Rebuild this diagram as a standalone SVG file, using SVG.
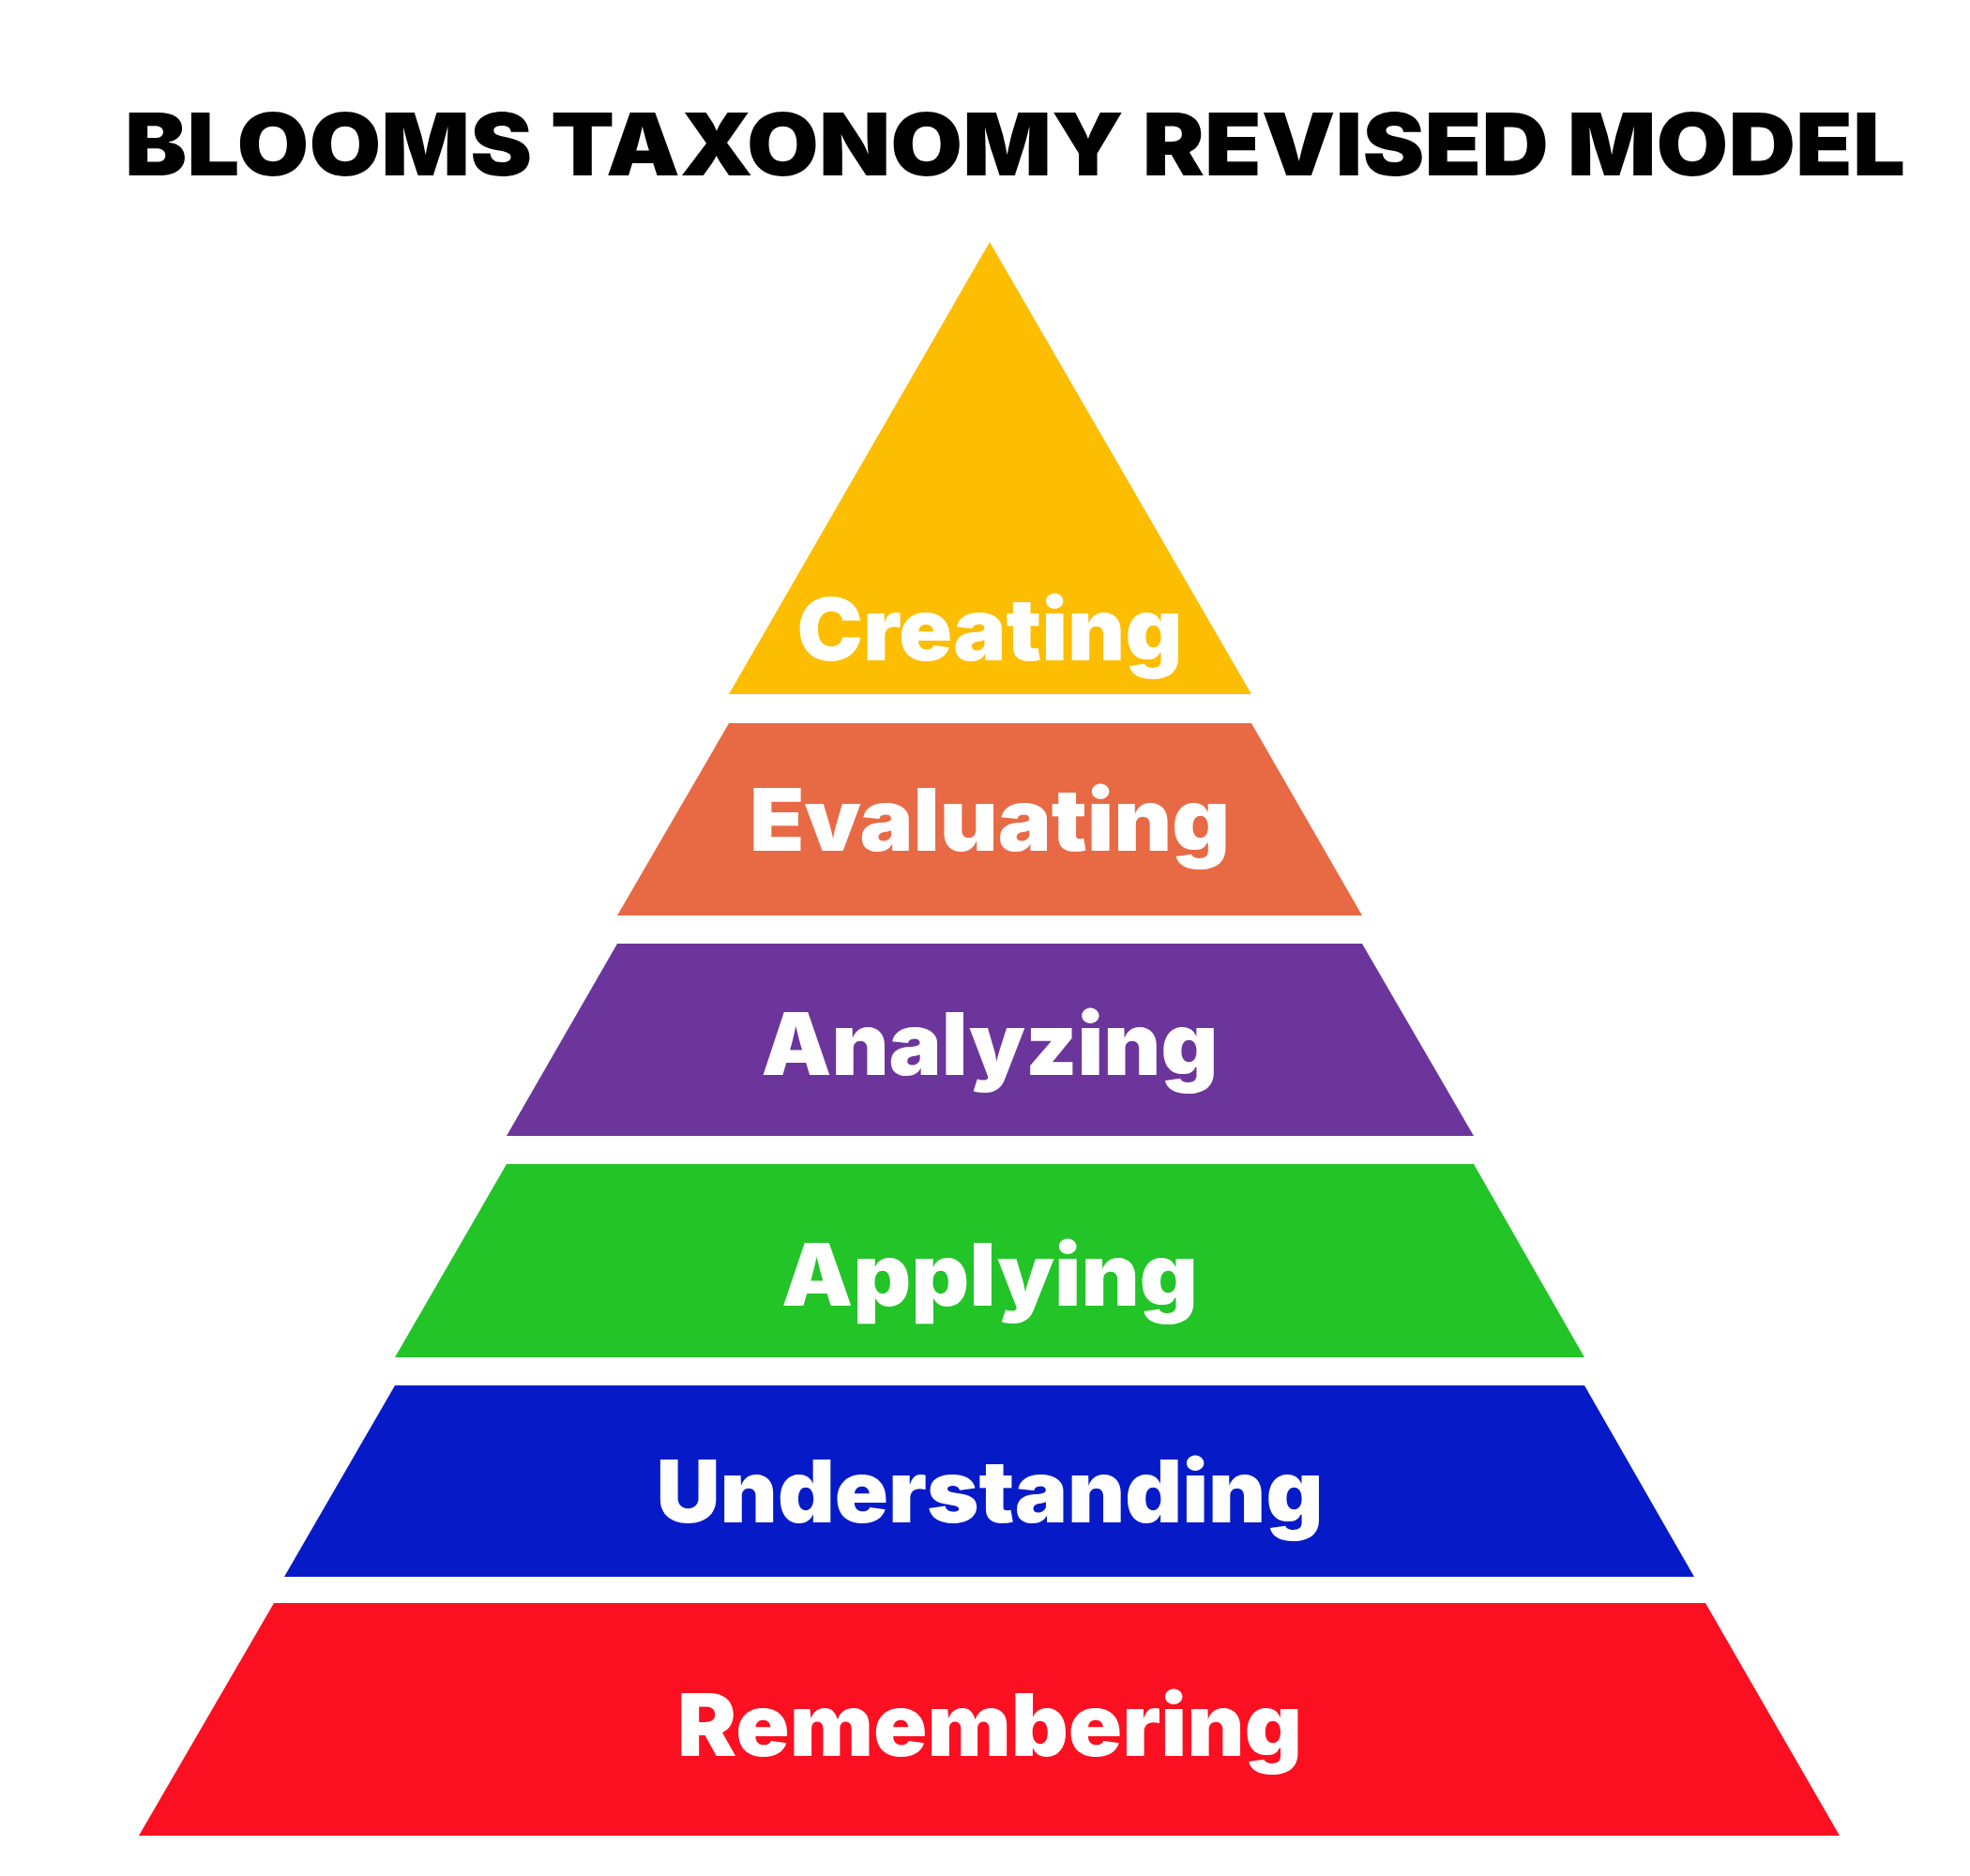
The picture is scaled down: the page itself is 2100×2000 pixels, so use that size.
<svg xmlns="http://www.w3.org/2000/svg" width="2100" height="2000" viewBox="0 0 2100 2000">
<style>
.t{font-family:Inter,"Liberation Sans",sans-serif;font-weight:900;}
.lbl{fill:#fff;font-size:92px;text-anchor:middle;}
</style>
<rect width="2100" height="2000" fill="#fff"/>
<text class="t" x="133" y="187" font-size="92" textLength="1898" lengthAdjust="spacingAndGlyphs" fill="#000">BLOOMS TAXONOMY REVISED MODEL</text>
<g id="creating"><polygon points="1055,258 1334,740 777,740" fill="#FDBD01"/><text class="t lbl" x="1055" y="704" textLength="411" lengthAdjust="spacingAndGlyphs">Creating</text></g>
<g id="evaluating"><polygon points="777,771 1334,771 1452,976 658,976" fill="#E86A44"/><text class="t lbl" x="1055" y="907" textLength="512" lengthAdjust="spacingAndGlyphs">Evaluating</text></g>
<g id="analyzing"><polygon points="658,1006 1452,1006 1571,1211 540,1211" fill="#6C359C"/><text class="t lbl" x="1055" y="1146" textLength="487" lengthAdjust="spacingAndGlyphs">Analyzing</text></g>
<g id="applying"><polygon points="540,1241 1571,1241 1689,1447 421,1447" fill="#22C428"/><text class="t lbl" x="1055" y="1392" textLength="444" lengthAdjust="spacingAndGlyphs">Applying</text></g>
<g id="understanding"><polygon points="421,1477 1689,1477 1806,1681 303,1681" fill="#061BC7"/><text class="t lbl" x="1055" y="1623" textLength="711" lengthAdjust="spacingAndGlyphs">Understanding</text></g>
<g id="remembering"><polygon points="292,1709 1818,1709 1961,1957 148,1957" fill="#FA1020"/><text class="t lbl" x="1055" y="1872" textLength="666" lengthAdjust="spacingAndGlyphs">Remembering</text></g>
<g id="connectors"/>
</svg>
